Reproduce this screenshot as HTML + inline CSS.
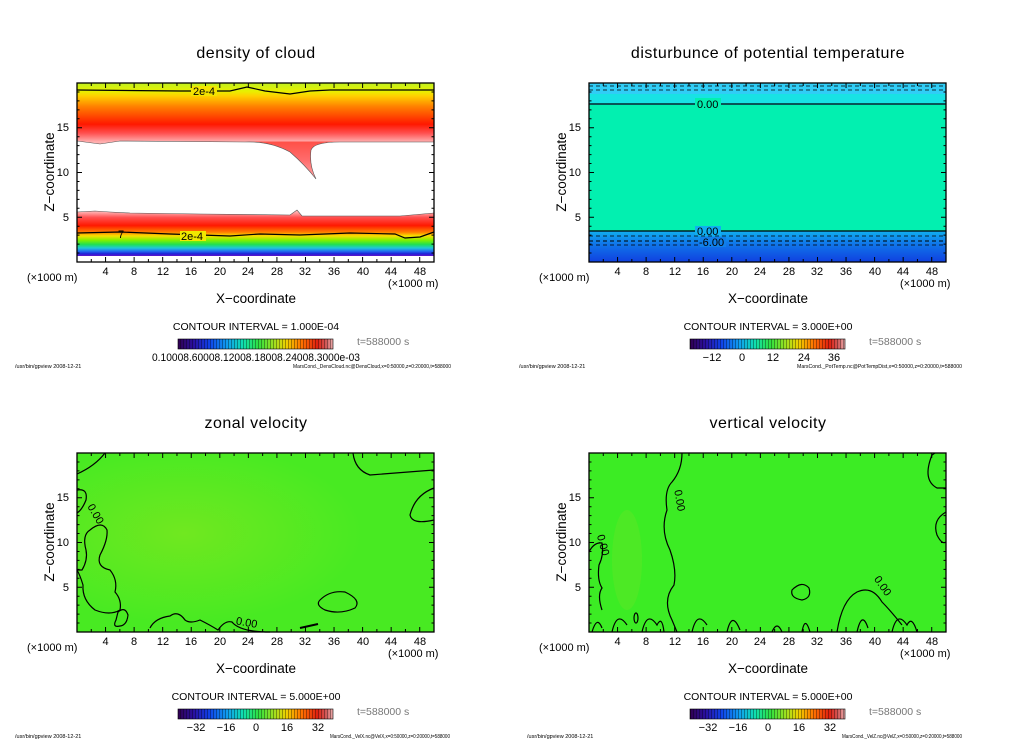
<!DOCTYPE html>
<html><head><meta charset="utf-8"><style>
html,body{margin:0;padding:0;background:#fff;width:1024px;height:740px;overflow:hidden}
svg{display:block;font-family:"Liberation Sans",sans-serif}
.t{font-size:16px;letter-spacing:0.5px}
.a{font-size:11px}
.ax{font-size:13.5px}
.ci{font-size:10.5px}
.ts{font-size:10.5px;fill:#777}
.f{font-size:5.5px}
</style></head><body>
<svg id="s" width="1024" height="740" viewBox="0 0 1024 740" xmlns="http://www.w3.org/2000/svg">
<defs>
<linearGradient id="cb" x1="0" x2="1" y1="0" y2="0">
<stop offset="0" stop-color="#300050"/><stop offset="0.1" stop-color="#2a10a0"/><stop offset="0.2" stop-color="#1040e8"/>
<stop offset="0.32" stop-color="#10a0f0"/><stop offset="0.42" stop-color="#10e0b0"/><stop offset="0.52" stop-color="#30e040"/>
<stop offset="0.62" stop-color="#a0e020"/><stop offset="0.7" stop-color="#f0d000"/><stop offset="0.8" stop-color="#ff7000"/>
<stop offset="0.9" stop-color="#e02010"/><stop offset="0.96" stop-color="#d06060"/><stop offset="1" stop-color="#f0b0b0"/>
</linearGradient>
<pattern id="st" width="3" height="10" patternUnits="userSpaceOnUse"><rect x="0" y="0" width="1" height="10" fill="#000" fill-opacity="0.35"/></pattern>
<linearGradient id="top" x1="0" x2="0" y1="83" y2="142" gradientUnits="userSpaceOnUse">
<stop offset="0" stop-color="#c0f020"/><stop offset="0.14" stop-color="#e8f000"/><stop offset="0.22" stop-color="#ffd000"/>
<stop offset="0.4" stop-color="#ff8000"/><stop offset="0.7" stop-color="#ff1800"/><stop offset="0.85" stop-color="#ff5050"/><stop offset="1" stop-color="#ffb0b0"/>
</linearGradient>
<linearGradient id="low" x1="0" x2="0" y1="212" y2="257" gradientUnits="userSpaceOnUse">
<stop offset="0" stop-color="#ffb0b0"/><stop offset="0.12" stop-color="#ff5050"/><stop offset="0.3" stop-color="#ff1800"/>
<stop offset="0.45" stop-color="#ff8000"/><stop offset="0.53" stop-color="#f8e000"/><stop offset="0.63" stop-color="#80f000"/>
<stop offset="0.72" stop-color="#20e050"/><stop offset="0.8" stop-color="#20c8d8"/><stop offset="0.87" stop-color="#2070f0"/>
<stop offset="0.93" stop-color="#2020d8"/><stop offset="1" stop-color="#8010c0"/>
</linearGradient>
<linearGradient id="tong" x1="0" x2="0" y1="138" y2="180" gradientUnits="userSpaceOnUse">
<stop offset="0" stop-color="#ff4a40"/><stop offset="0.5" stop-color="#ff6a6a"/><stop offset="1" stop-color="#ffa8a8"/>
</linearGradient>
<linearGradient id="pb" x1="0" x2="0" y1="231" y2="262" gradientUnits="userSpaceOnUse">
<stop offset="0" stop-color="#10b0f0"/><stop offset="0.4" stop-color="#1078ea"/><stop offset="1" stop-color="#1040e0"/>
</linearGradient>
<radialGradient id="gl" cx="0.3" cy="0.45" r="0.5"><stop offset="0" stop-color="#70e820"/><stop offset="1" stop-color="#48ea22"/></radialGradient>
</defs>

<g>
<rect x="77" y="83" width="357" height="179" fill="#fff"/>
<path d="M77,83H434V142L340,142 L320,142 L245,142 L120,141 L100,144 L77,141Z" fill="url(#top)"/>
<path d="M245,141.5 Q270,141 290,152 Q305,165 316,179 Q309,165 311,150 Q314,142 340,141.5Z" fill="url(#tong)"/>
<path d="M77,141 L100,144 L120,141 L245,142 Q270,141 290,152 Q305,165 316,179 Q309,165 311,150 Q314,142 340,142 L434,142" fill="none" stroke="#555" stroke-width="0.6"/>
<path d="M77,212 L95,211 L110,212 L130,213 L200,214 L290,215 L297,210 L302,216 L400,216 L434,213 V256 L77,256Z" fill="url(#low)"/>
<path d="M77,212 L95,211 L110,212 L130,213 L200,214 L290,215 L297,210 L302,216 L400,216 L434,213" fill="none" stroke="#555" stroke-width="0.6"/>
<path d="M77,90 L180,91 L230,91 L247,87 L265,91 L290,94 L310,91 L330,90 L434,90" fill="none" stroke="#000" stroke-width="1.2"/>
<rect x="191" y="86" width="26" height="10" fill="#f4e400"/>
<text x="193" y="95" class="a">2e-4</text>
<path d="M77,233 L120,232 L170,234 L230,236 L260,234 L300,235 L350,233 L395,234 L405,238 L420,237 L434,232" fill="none" stroke="#000" stroke-width="1.2"/>
<rect x="180" y="231" width="26" height="10" fill="#f0e800"/>
<text x="181" y="240" class="a">2e-4</text>
<text x="118" y="238" class="a" font-size="9">7</text>
</g>

<g transform="translate(512,0)">
<rect x="77" y="83" width="357" height="11" fill="#30cdf6"/>
<rect x="77" y="94" width="357" height="11" fill="#18e2e4"/>
<rect x="77" y="105" width="357" height="126" fill="#02f0b0"/>
<rect x="77" y="231" width="357" height="31" fill="url(#pb)"/>
<line x1="77" y1="86" x2="434" y2="86" stroke="#000" stroke-dasharray="4,3" stroke-width="0.8"/>
<line x1="77" y1="90" x2="434" y2="90" stroke="#000" stroke-dasharray="4,3" stroke-width="0.8"/>
<line x1="77" y1="104" x2="434" y2="104" stroke="#000" stroke-width="1.2"/>
<rect x="183" y="98" width="26" height="12" fill="#02f0b0"/>
<text x="185" y="108" class="a">0.00</text>
<line x1="77" y1="231" x2="434" y2="231" stroke="#000" stroke-width="1.2"/>
<rect x="183" y="226" width="26" height="10" fill="#10b0f0"/>
<text x="185" y="235" class="a">0.00</text>
<line x1="77" y1="236" x2="434" y2="236" stroke="#000" stroke-dasharray="4,3" stroke-width="0.8"/>
<line x1="77" y1="241" x2="434" y2="241" stroke="#000" stroke-dasharray="4,3" stroke-width="1"/>
<line x1="77" y1="245" x2="434" y2="245" stroke="#000" stroke-dasharray="4,3" stroke-width="0.8"/>
<rect x="188" y="237" width="26" height="10" fill="#1080ea"/>
<text x="187" y="246" class="a">-6.00</text>
</g>

<g transform="translate(0,370)">
<rect x="77" y="83" width="357" height="179" fill="url(#gl)"/>
<g fill="none" stroke="#000" stroke-width="1.2">
<path d="M77,104 Q95,96 105,83"/>
<path d="M77,120 Q88,118 86,130 Q82,140 77,143"/>
<path d="M77,200 L82,200 Q88,190 86,180 Q82,165 90,160 Q102,150 107,160 Q108,170 100,185 Q96,197 110,200 Q118,210 115,222 Q122,230 120,240 Q110,246 95,240 Q82,230 83,215 Q80,205 77,200"/>
<path d="M118,242 Q125,236 128,245 Q127,255 120,256 Q112,258 116,250Z"/>
<path d="M150,258 Q155,248 170,246 Q178,240 185,250 Q190,254 200,250 Q210,255 218,260 Q225,250 232,252 Q240,262 270,262"/>
<path d="M320,230 Q330,220 345,222 Q362,230 355,238 Q340,245 325,240 Q315,235 320,230Z"/>
<path d="M300,258 L318,254" stroke-width="2"/>
<path d="M353,83 Q355,100 370,105 L434,100"/>
<path d="M434,118 Q415,125 410,145 Q412,155 434,150"/>
</g>
<text x="88" y="145" class="a" transform="rotate(60 95 140)">0.00</text>
<text x="236" y="255" class="a" transform="rotate(10 240 252)">0.00</text>
</g>

<g transform="translate(512,370)">
<rect x="77" y="83" width="357" height="179" fill="#3cec24"/>
<ellipse cx="115" cy="190" rx="15" ry="50" fill="#58e826" opacity="0.6"/>
<g fill="none" stroke="#000" stroke-width="1.2">
<path d="M77,182 Q82,172 90,173 Q92,185 87,195 Q85,210 90,218 Q85,225 90,240"/>
<path d="M170,83 Q170,100 160,112 Q152,120 155,140 Q148,160 158,180 Q165,200 162,215 Q150,230 160,250 L165,262"/>
<path d="M280,220 Q290,210 297,218 Q300,228 290,230 Q278,228 280,220Z"/>
<path d="M434,118 L425,118 Q410,110 420,85 L423,83"/>
<path d="M434,142 Q420,150 425,165 Q430,175 434,172"/>
<path d="M325,262 Q330,230 345,222 Q360,215 370,232 Q378,240 390,255"/>
<path d="M80,262 Q85,245 90,258 M100,262 Q105,240 115,255 M130,262 Q135,240 145,255 Q150,245 152,262 M180,262 Q185,240 195,255 M215,262 Q220,240 228,260 M260,262 Q265,250 270,262 M290,262 Q293,245 298,262 M345,262 Q350,240 356,258 M380,262 Q385,240 395,255 Q400,245 405,262"/>
<ellipse cx="124" cy="248" rx="2" ry="5"/>
</g>
<text x="80" y="168" class="a" transform="rotate(75 84 170)">0.00</text>
<text x="156" y="122" class="a" transform="rotate(80 160 125)">0.00</text>
<text x="357" y="212" class="a" transform="rotate(55 362 215)">0.00</text>
</g>

<g id="common"></g>

<text x="256" y="58" class="t" text-anchor="middle">density of cloud</text>
<text x="768" y="58" class="t" text-anchor="middle">disturbunce of potential temperature</text>
<text x="256" y="428" class="t" text-anchor="middle">zonal velocity</text>
<text x="768" y="428" class="t" text-anchor="middle">vertical velocity</text>

<g>
<text x="69" y="131" class="a" text-anchor="end">15</text><text x="69" y="176" class="a" text-anchor="end">10</text><text x="69" y="221" class="a" text-anchor="end">5</text>
<text transform="translate(54,172) rotate(-90)" class="ax" text-anchor="middle">Z−coordinate</text>
<g class="a" text-anchor="middle"><text x="105.6" y="275">4</text><text x="134" y="275">8</text><text x="163" y="275">12</text><text x="191" y="275">16</text><text x="220" y="275">20</text><text x="248" y="275">24</text><text x="277" y="275">28</text><text x="305" y="275">32</text><text x="334" y="275">36</text><text x="363" y="275">40</text><text x="391" y="275">44</text><text x="420" y="275">48</text></g>
<text x="27" y="281" class="a">(×1000 m)</text><text x="388" y="287" class="a">(×1000 m)</text>
<text x="256" y="303" class="ax" text-anchor="middle">X−coordinate</text>
<text x="256" y="330" class="ci" text-anchor="middle">CONTOUR INTERVAL = 1.000E-04</text>
<text x="357" y="345" class="ts">t=588000 s</text>
<text x="152" y="361" class="a" textLength="208" lengthAdjust="spacingAndGlyphs">0.10008.60008.12008.18008.24008.3000e-03</text>
<text x="15" y="368" class="f">/usr/bin/gpview    2008-12-21</text>
<text x="293" y="368" class="f" textLength="158" lengthAdjust="spacingAndGlyphs">MarsCond._DensCloud.nc@DensCloud,x=0:50000,z=0:20000,t=588000</text>
</g>
<g transform="translate(512,0)">
<text x="69" y="131" class="a" text-anchor="end">15</text><text x="69" y="176" class="a" text-anchor="end">10</text><text x="69" y="221" class="a" text-anchor="end">5</text>
<text transform="translate(54,172) rotate(-90)" class="ax" text-anchor="middle">Z−coordinate</text>
<g class="a" text-anchor="middle"><text x="105.6" y="275">4</text><text x="134" y="275">8</text><text x="163" y="275">12</text><text x="191" y="275">16</text><text x="220" y="275">20</text><text x="248" y="275">24</text><text x="277" y="275">28</text><text x="305" y="275">32</text><text x="334" y="275">36</text><text x="363" y="275">40</text><text x="391" y="275">44</text><text x="420" y="275">48</text></g>
<text x="27" y="281" class="a">(×1000 m)</text><text x="388" y="287" class="a">(×1000 m)</text>
<text x="256" y="303" class="ax" text-anchor="middle">X−coordinate</text>
<text x="256" y="330" class="ci" text-anchor="middle">CONTOUR INTERVAL = 3.000E+00</text>
<text x="357" y="345" class="ts">t=588000 s</text>
<g class="a" text-anchor="middle"><text x="200" y="361">−12</text><text x="230" y="361">0</text><text x="261" y="361">12</text><text x="292" y="361">24</text><text x="322" y="361">36</text></g>
<text x="7" y="368" class="f">/usr/bin/gpview    2008-12-21</text>
<text x="285" y="368" class="f" textLength="165" lengthAdjust="spacingAndGlyphs">MarsCond._PotTemp.nc@PotTempDist,x=0:50000,z=0:20000,t=588000</text>
</g>
<g transform="translate(0,370)">
<text x="69" y="131" class="a" text-anchor="end">15</text><text x="69" y="176" class="a" text-anchor="end">10</text><text x="69" y="221" class="a" text-anchor="end">5</text>
<text transform="translate(54,172) rotate(-90)" class="ax" text-anchor="middle">Z−coordinate</text>
<g class="a" text-anchor="middle"><text x="105.6" y="275">4</text><text x="134" y="275">8</text><text x="163" y="275">12</text><text x="191" y="275">16</text><text x="220" y="275">20</text><text x="248" y="275">24</text><text x="277" y="275">28</text><text x="305" y="275">32</text><text x="334" y="275">36</text><text x="363" y="275">40</text><text x="391" y="275">44</text><text x="420" y="275">48</text></g>
<text x="27" y="281" class="a">(×1000 m)</text><text x="388" y="287" class="a">(×1000 m)</text>
<text x="256" y="303" class="ax" text-anchor="middle">X−coordinate</text>
<text x="256" y="330" class="ci" text-anchor="middle">CONTOUR INTERVAL = 5.000E+00</text>
<text x="357" y="345" class="ts">t=588000 s</text>
<g class="a" text-anchor="middle"><text x="196" y="361">−32</text><text x="226" y="361">−16</text><text x="256" y="361">0</text><text x="287" y="361">16</text><text x="318" y="361">32</text></g>
<text x="15" y="368" class="f">/usr/bin/gpview    2008-12-21</text>
<text x="330" y="368" class="f" textLength="120" lengthAdjust="spacingAndGlyphs">MarsCond._VelX.nc@VelX,x=0:50000,z=0:20000,t=588000</text>
</g>
<g transform="translate(512,370)">
<text x="69" y="131" class="a" text-anchor="end">15</text><text x="69" y="176" class="a" text-anchor="end">10</text><text x="69" y="221" class="a" text-anchor="end">5</text>
<text transform="translate(54,172) rotate(-90)" class="ax" text-anchor="middle">Z−coordinate</text>
<g class="a" text-anchor="middle"><text x="105.6" y="275">4</text><text x="134" y="275">8</text><text x="163" y="275">12</text><text x="191" y="275">16</text><text x="220" y="275">20</text><text x="248" y="275">24</text><text x="277" y="275">28</text><text x="305" y="275">32</text><text x="334" y="275">36</text><text x="363" y="275">40</text><text x="391" y="275">44</text><text x="420" y="275">48</text></g>
<text x="27" y="281" class="a">(×1000 m)</text><text x="388" y="287" class="a">(×1000 m)</text>
<text x="256" y="303" class="ax" text-anchor="middle">X−coordinate</text>
<text x="256" y="330" class="ci" text-anchor="middle">CONTOUR INTERVAL = 5.000E+00</text>
<text x="357" y="345" class="ts">t=588000 s</text>
<g class="a" text-anchor="middle"><text x="196" y="361">−32</text><text x="226" y="361">−16</text><text x="256" y="361">0</text><text x="287" y="361">16</text><text x="318" y="361">32</text></g>
<text x="15" y="368" class="f">/usr/bin/gpview    2008-12-21</text>
<text x="330" y="368" class="f" textLength="120" lengthAdjust="spacingAndGlyphs">MarsCond._VelZ.nc@VelZ,x=0:50000,z=0:20000,t=588000</text>
</g>
</svg>
<script>
(function(){
var NS="http://www.w3.org/2000/svg",g=document.getElementById("common");
function el(n,a){var e=document.createElementNS(NS,n);for(var k in a)e.setAttribute(k,a[k]);g.appendChild(e);return e;}
var offs=[[0,0],[512,0],[0,370],[512,370]];
offs.forEach(function(o){
 var ox=o[0],oy=o[1],x0=ox+77,x1=ox+434,y0=oy+83,y1=oy+262;
 el("rect",{x:x0,y:y0,width:357,height:179,fill:"none",stroke:"#000","stroke-width":1.3});
 var d="";
 for(var v=1;v<50;v++){var x=x0+v*7.14,L=(v%4==0)?5:(v%2==0?3:0);if(L){d+="M"+x+","+y1+"v-"+L+"M"+x+","+y0+"v"+L;}}
 for(var z=1;z<20;z++){var y=y1-z*8.95,L=(z%5==0)?5:2.5;d+="M"+x0+","+y+"h"+L+"M"+x1+","+y+"h-"+L;}
 el("path",{d:d,stroke:"#000","stroke-width":1,fill:"none"});
 var cx=ox+178;
 el("rect",{x:cx,y:oy+339,width:155,height:10,fill:"url(#cb)"});
 el("rect",{x:cx,y:oy+339,width:155,height:10,fill:"url(#st)"});
 el("rect",{x:cx,y:oy+339,width:155,height:10,fill:"none",stroke:"#000","stroke-width":0.6});
});
})();
</script>
</body></html>
